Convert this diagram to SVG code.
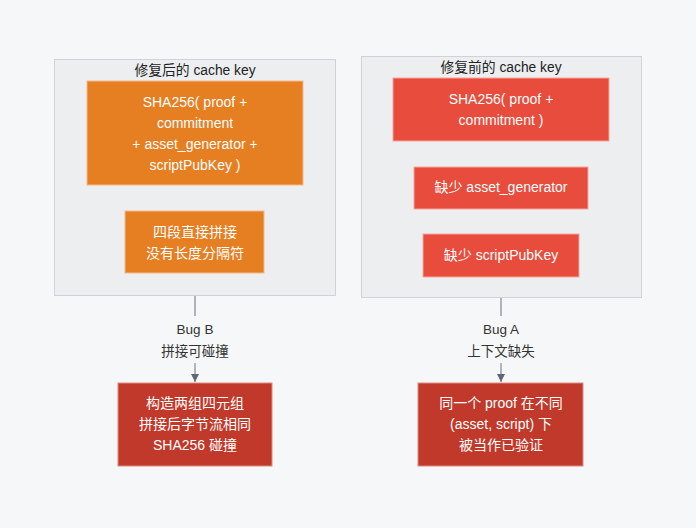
<svg xmlns="http://www.w3.org/2000/svg" width="696" height="528" viewBox="0 0 696 528">
<style>
text{font-family:"Liberation Sans","Noto Sans CJK SC",sans-serif;font-size:14px;text-anchor:middle;dominant-baseline:central}
.cl{fill:#eceef0;stroke:#cfd2d6;stroke-width:1}
.t{fill:#222;font-size:13.8px}
.o{fill:#e67e22;stroke:#f5b98a;stroke-width:1}
.r{fill:#e74c3c;stroke:#f7a59c;stroke-width:1}
.d{fill:#c0392b;stroke:#e08a80;stroke-width:1}
.w{fill:#fff}
.lbl{fill:#333;font-size:13.5px}
.e{stroke:#7f8790;stroke-width:1.2;fill:none}
</style>
<defs>
<marker id="ah" viewBox="0 0 10 10" refX="10" refY="5" markerWidth="8" markerHeight="8" orient="auto" markerUnits="userSpaceOnUse">
<path d="M0,0 L10,5 L0,10 z" fill="#5f6770"/>
</marker>
</defs>
<rect width="696" height="528" fill="#f6f7f9"/>
<g id="cluster-after">
<rect class="cl" x="54.5" y="59.5" width="281" height="236"/>
<text class="t" x="195" y="70">修复后的 cache key</text>
</g>
<g id="cluster-before">
<rect class="cl" x="361.5" y="56.5" width="280" height="241"/>
<text class="t" x="501" y="67">修复前的 cache key</text>
</g>
<g id="connectors">
<path class="e" d="M195,296 V316"/>
<path class="e" d="M195,363 V382" marker-end="url(#ah)"/>
<text class="lbl" x="195" y="329">Bug B</text>
<text class="lbl" x="195" y="351">拼接可碰撞</text>
<path class="e" d="M501,298 V316"/>
<path class="e" d="M501,363 V382" marker-end="url(#ah)"/>
<text class="lbl" x="501" y="329">Bug A</text>
<text class="lbl" x="501" y="351">上下文缺失</text>
</g>
<g id="after-hash">
<rect class="o" x="87" y="81" width="216" height="104"/>
<text class="w" x="195" y="102">SHA256( proof +</text>
<text class="w" x="195" y="123">commitment</text>
<text class="w" x="195" y="144">+ asset_generator +</text>
<text class="w" x="195" y="165">scriptPubKey )</text>
</g>
<g id="after-concat">
<rect class="o" x="125" y="211" width="139" height="62"/>
<text class="w" x="195" y="232">四段直接拼接</text>
<text class="w" x="195" y="253">没有长度分隔符</text>
</g>
<g id="before-hash">
<rect class="r" x="393" y="78" width="216" height="63"/>
<text class="w" x="501" y="99">SHA256( proof +</text>
<text class="w" x="501" y="120">commitment )</text>
</g>
<g id="before-asset">
<rect class="r" x="414" y="167" width="174" height="42"/>
<text class="w" x="501" y="187">缺少 asset_generator</text>
</g>
<g id="before-script">
<rect class="r" x="423" y="234" width="156" height="43"/>
<text class="w" x="501" y="255">缺少 scriptPubKey</text>
</g>
<g id="bug-b">
<rect class="d" x="118" y="383" width="154" height="83"/>
<text class="w" x="195" y="403">构造两组四元组</text>
<text class="w" x="195" y="424">拼接后字节流相同</text>
<text class="w" x="195" y="445">SHA256 碰撞</text>
</g>
<g id="bug-a">
<rect class="d" x="418" y="383" width="165" height="83"/>
<text class="w" x="501" y="403">同一个 proof 在不同</text>
<text class="w" x="501" y="424">(asset, script) 下</text>
<text class="w" x="501" y="445">被当作已验证</text>
</g>
</svg>
